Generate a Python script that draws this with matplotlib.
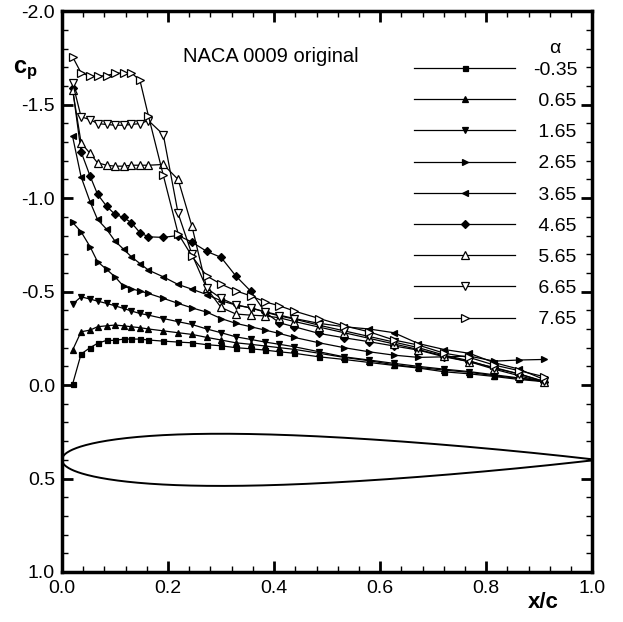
import numpy as np
import matplotlib.pyplot as plt

plt.rcParams['font.family'] = ['Liberation Sans', 'DejaVu Sans']
plt.rcParams['axes.unicode_minus'] = False
plt.rcParams['mathtext.fontset'] = 'custom'
plt.rcParams['mathtext.rm'] = 'Liberation Sans'
plt.rcParams['mathtext.bf'] = 'Liberation Sans:bold'

# pressure tap positions x/c
x_taps = [0.02, 0.036, 0.053, 0.067, 0.084, 0.100, 0.116, 0.131, 0.147, 0.163,
          0.191, 0.219, 0.245, 0.273, 0.300, 0.328, 0.356, 0.383, 0.410, 0.438,
          0.485, 0.532, 0.579, 0.626, 0.672, 0.721, 0.768, 0.815, 0.862, 0.909]

alphas = ['-0.35', '0.65', '1.65', '2.65', '3.65', '4.65', '5.65', '6.65', '7.65']

cp_m035 = [-0.005, -0.166, -0.20, -0.223, -0.239, -0.239, -0.246, -0.246, -0.246, -0.241,
           -0.235, -0.23, -0.226, -0.216, -0.21, -0.20, -0.194, -0.187, -0.178, -0.17,
           -0.151, -0.137, -0.121, -0.105, -0.091, -0.071, -0.06, -0.046, -0.03, -0.018]
cp_065 = [-0.187, -0.285, -0.294, -0.312, -0.317, -0.321, -0.317, -0.312, -0.307, -0.30,
          -0.29, -0.28, -0.271, -0.255, -0.241, -0.226, -0.218, -0.209, -0.20, -0.191,
          -0.17, -0.148, -0.13, -0.109, -0.094, -0.08, -0.068, -0.05, -0.035, -0.02]
cp_165 = [-0.433, -0.472, -0.46, -0.449, -0.437, -0.424, -0.41, -0.396, -0.383, -0.374,
          -0.356, -0.339, -0.324, -0.30, -0.28, -0.258, -0.244, -0.23, -0.218, -0.205,
          -0.178, -0.151, -0.134, -0.116, -0.10, -0.085, -0.072, -0.055, -0.038, -0.022]
cp_265 = [-0.87, -0.82, -0.74, -0.66, -0.619, -0.579, -0.529, -0.515, -0.503, -0.49,
          -0.464, -0.437, -0.413, -0.39, -0.356, -0.33, -0.312, -0.294, -0.276, -0.255,
          -0.226, -0.20, -0.178, -0.16, -0.148, -0.151, -0.155, -0.128, -0.134, -0.137]
cp_365 = [-1.33, -1.114, -0.98, -0.886, -0.834, -0.77, -0.727, -0.686, -0.65, -0.615,
          -0.579, -0.538, -0.513, -0.484, -0.451, -0.428, -0.413, -0.392, -0.374, -0.356,
          -0.33, -0.312, -0.30, -0.28, -0.222, -0.19, -0.17, -0.12, -0.085, -0.03]
cp_465 = [-1.587, -1.248, -1.118, -1.021, -0.957, -0.913, -0.897, -0.868, -0.815, -0.793,
          -0.79, -0.80, -0.765, -0.715, -0.683, -0.583, -0.502, -0.39, -0.333, -0.312,
          -0.276, -0.253, -0.232, -0.209, -0.187, -0.151, -0.125, -0.094, -0.059, -0.018]
cp_565 = [-1.58, -1.296, -1.239, -1.189, -1.176, -1.171, -1.171, -1.176, -1.176, -1.176,
          -1.18, -1.10, -0.85, -0.517, -0.415, -0.38, -0.374, -0.37, -0.36, -0.34,
          -0.31, -0.28, -0.25, -0.22, -0.19, -0.155, -0.125, -0.085, -0.05, -0.015]
cp_665 = [-1.617, -1.435, -1.42, -1.399, -1.394, -1.39, -1.39, -1.394, -1.399, -1.415,
          -1.34, -0.918, -0.70, -0.517, -0.464, -0.428, -0.413, -0.39, -0.37, -0.353,
          -0.32, -0.29, -0.26, -0.23, -0.20, -0.16, -0.13, -0.09, -0.06, -0.02]
cp_765 = [-1.756, -1.67, -1.652, -1.652, -1.656, -1.667, -1.67, -1.67, -1.63, -1.44,
          -1.123, -0.81, -0.69, -0.583, -0.54, -0.504, -0.477, -0.445, -0.424, -0.396,
          -0.356, -0.317, -0.285, -0.241, -0.214, -0.17, -0.148, -0.107, -0.077, -0.045]

series = [cp_m035, cp_065, cp_165, cp_265, cp_365, cp_465, cp_565, cp_665, cp_765]
markers = ['s', '^', 'v', '>', '<', 'D', '^', 'v', '>']
filled = [True, True, True, True, True, True, False, False, False]
msizes = [3.6, 4, 4, 4, 4, 3.8, 5.5, 5.5, 5.5]

fig = plt.figure(figsize=(6.23, 6.22), dpi=100)
ax = fig.add_axes([0.0995, 0.0804, 0.8512, 0.9016])

handles = []
for cp, m, f, s in zip(series, markers, filled, msizes):
    h, = ax.plot(x_taps, cp, color='black', lw=0.9, marker=m, ms=s,
                 mfc='black' if f else 'white', mec='black', mew=0.9)
    handles.append(h)

# airfoil outline (NACA 0009), drawn around cp = 0.4
xa = np.linspace(0, 1, 400)
yt = 5 * 0.09 * (0.2969 * np.sqrt(xa) - 0.1260 * xa - 0.3516 * xa**2
                 + 0.2843 * xa**3 - 0.1015 * xa**4)
ax.plot(np.concatenate([xa[::-1], xa]), 0.4 + 3.1 * np.concatenate([-yt[::-1], yt]),
        color='black', lw=1.4)

ax.set_xlim(0, 1)
ax.set_ylim(1.0, -2.0)
ax.set_xticks(np.arange(0, 1.01, 0.2))
ax.set_xticks(np.arange(0, 1.001, 0.04), minor=True)
ax.set_yticks(np.arange(-2.0, 1.01, 0.5))
ax.set_yticks(np.arange(-2.0, 1.001, 0.1), minor=True)
ax.xaxis.set_major_formatter(plt.FormatStrFormatter('%.1f'))
ax.yaxis.set_major_formatter(plt.FormatStrFormatter('%.1f'))
ax.tick_params(which='both', direction='in', top=True, right=True, labelsize=14)
ax.tick_params(which='major', length=8, width=2)
ax.tick_params(which='minor', length=4, width=1)
ax.tick_params(axis='x', pad=6)
ax.tick_params(axis='y', pad=5)
for sp in ax.spines.values():
    sp.set_linewidth(2.5)

fig.text(0.04, 0.887, r'$\mathbf{c_p}$', fontsize=17, ha='center', va='center')
fig.text(0.872, 0.032, 'x/c', fontsize=16, fontweight='bold', ha='center', va='center')
ax.text(0.228, -1.755, 'NACA 0009 original', fontsize=14.5, ha='left', va='center')
ax.text(0.93, -1.80, 'α', fontsize=14, ha='center', va='center')

labels = [a if a.startswith('-') else ' ' + a for a in alphas]
ax.legend(handles, labels, loc='upper left', bbox_to_anchor=(0.664, 0.911),
          frameon=False, fontsize=14, handlelength=5.2, handletextpad=0.9,
          labelspacing=0.70, borderpad=0, borderaxespad=0, numpoints=1)

fig.savefig('out.png', dpi=100)
